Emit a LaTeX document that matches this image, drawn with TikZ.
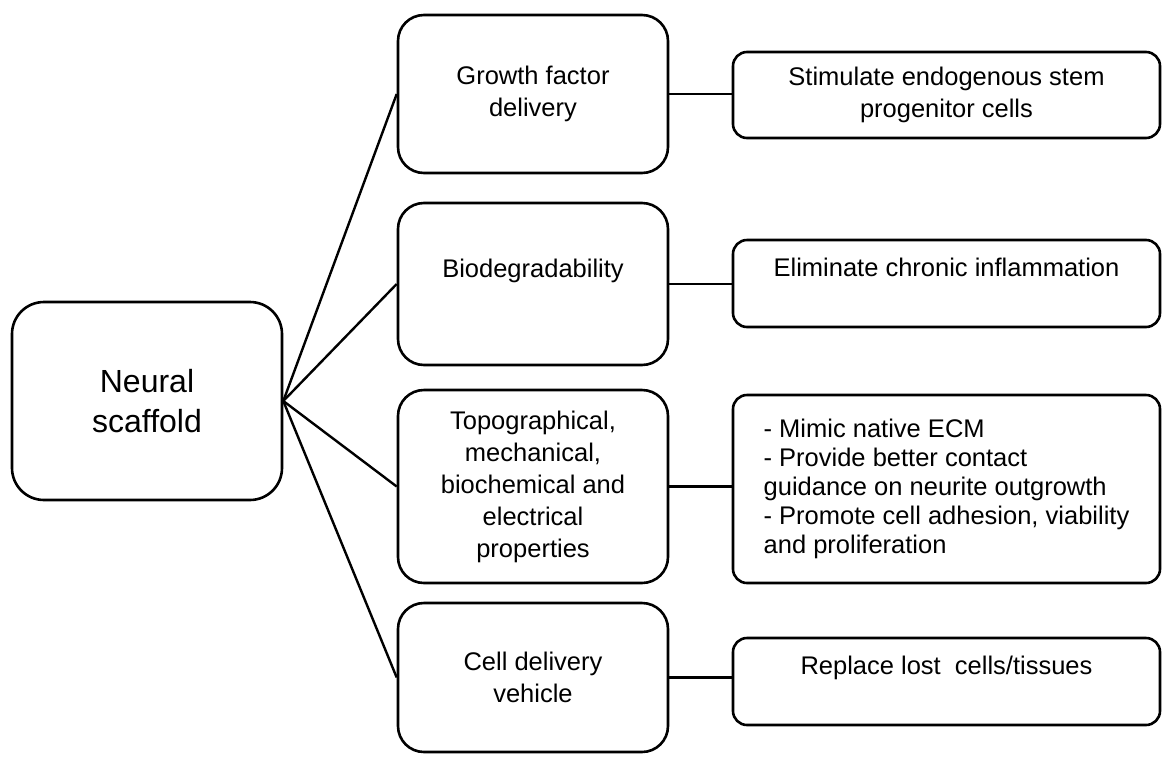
\documentclass[tikz,border=0pt]{standalone}
\usepackage{fontspec}
\setmainfont{Liberation Sans}
\usetikzlibrary{positioning}

\begin{document}
\begin{tikzpicture}[x=1pt, y=-1pt,
    hubbox/.style={draw, line width=2.6pt, rounded corners=32pt, align=center, inner sep=0pt, font=\fontsize{32}{40}\selectfont},
    midbox/.style={draw, line width=2.6pt, rounded corners=26pt, align=center, inner sep=0pt, minimum width=270pt, font=\fontsize{25.5}{32}\selectfont},
    endbox/.style={draw, line width=2.6pt, rounded corners=14pt, align=center, inner sep=0pt, minimum width=427pt, font=\fontsize{25.5}{32}\selectfont},
    upper/.style={text height=18pt, text depth=32pt},
    link/.style={line width=2.4pt}]
	% page
	\useasboundingbox (0,0) rectangle (1163,756);
	% draw boxes
	\node[hubbox, minimum width=270pt, minimum height=198pt] (scaffold) at (147,401) {Neural\\scaffold};
	
	\node[midbox, minimum height=158pt] (growth) at (533,94) {Growth factor\\delivery};
	\node[midbox, minimum height=162pt, upper] (degrad) at (533,284) {Biodegradability};
	\node[midbox, minimum height=193pt] (props) at (533,486.5) {Topographical,\\mechanical,\\biochemical and\\electrical\\properties};
	\node[midbox, minimum height=149pt] (carrier) at (533,677.5) {Cell delivery\\vehicle};
	
	\node[endbox, minimum height=86pt] (stimulate) at (946.5,95) {Stimulate endogenous stem\\progenitor cells};
	\node[endbox, minimum height=87pt, upper] (inflam) at (946.5,283.5) {Eliminate chronic inflammation};
	\node[endbox, minimum height=188pt, align=left, font=\fontsize{25.5}{29}\selectfont] (mimic) at (946.5,489) {- Mimic native ECM\\- Provide better contact\\guidance on neurite outgrowth\\- Promote cell adhesion, viability\\and proliferation};
	\node[endbox, minimum height=87pt, upper] (replace) at (946.5,681.5) {Replace lost\ \ cells/tissues};
	
	% connect boxes
	\foreach \m in {growth,degrad,props,carrier}
		\draw[link] (scaffold.east) -- (\m.west);
	\foreach \m/\r in {growth/stimulate,degrad/inflam,props/mimic,carrier/replace}
		\draw[link] (\m.east) -- (\m.east -| \r.west);
\end{tikzpicture}
\end{document}
